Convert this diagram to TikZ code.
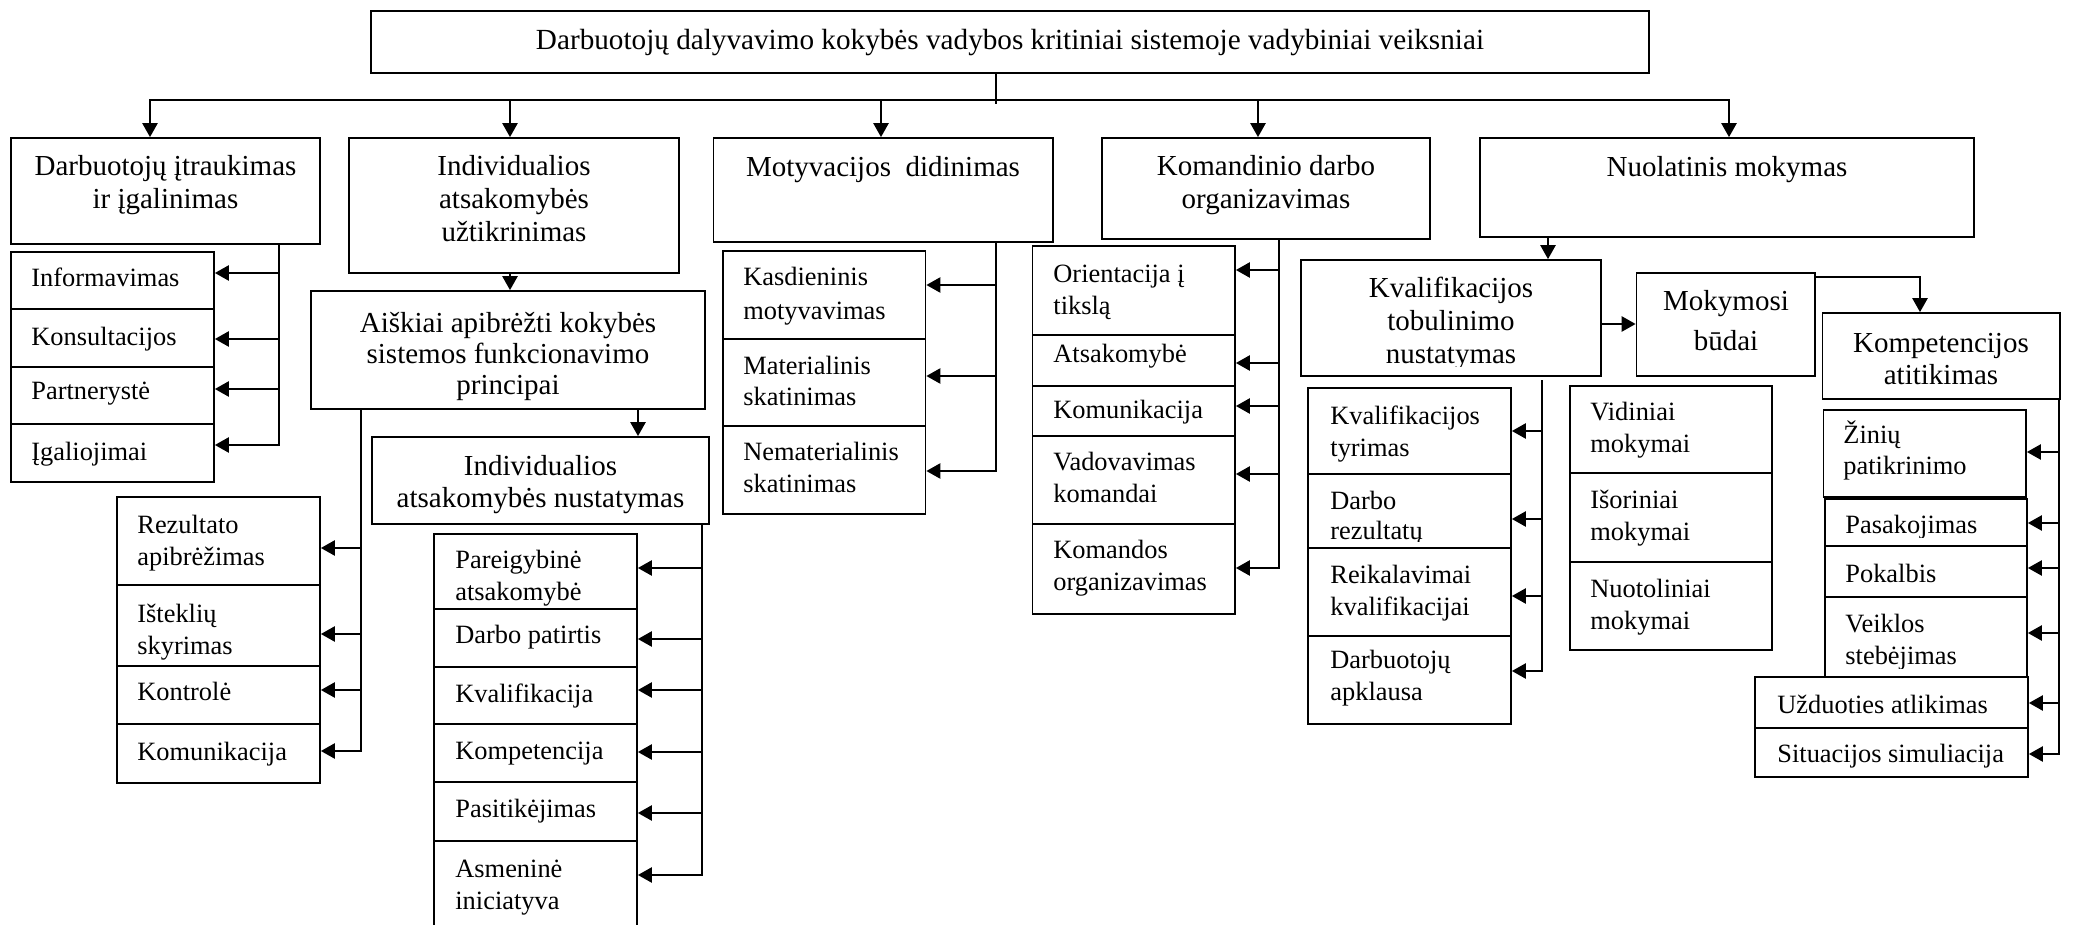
\documentclass[tikz,border=0pt]{standalone}
\usepackage{fontspec}
\setmainfont{Liberation Serif}
\usetikzlibrary{arrows.meta,fit,calc}

% a connector from a trunk point to the east side of a box
\newcommand\tap[3]{\coordinate (#1) at #2; \draw[arr] (#1) -- (#1 -| #3.east);}
% stacked lines whose reference baseline is the first line
\newcommand\cstk[1]{\begin{tabular}[t]{@{}c@{}}#1\end{tabular}}
\newcommand\lstk[1]{\begin{tabular}[t]{@{}l@{}}#1\end{tabular}}

\begin{document}
\begin{tikzpicture}[x=0.5pt,y=-0.5pt,
  box/.style={draw, line width=0.85pt, fill=white, inner sep=0pt},
  conn/.style={line width=1.2pt, line cap=rect},
  arr/.style={line width=1.2pt, -{Triangle[length=7pt,width=7.5pt]}},
  ttl/.style={font=\fontsize{14.6}{16.5}\selectfont, anchor=base, inner sep=0pt},
  htxt/.style={font=\fontsize{14.5}{16.5}\selectfont, anchor=base, inner sep=0pt},
  stxt/.style={font=\fontsize{13.2}{16}\selectfont, anchor=base west, inner sep=0pt}]

\path[use as bounding box, fill=white] (0,0) rectangle (2073,925);

% ---------- title ----------
\node[box, fit={(371,11) (1649,73)}] (title) {};
\node[ttl] (title-t) at (1010,50) {Darbuotojų dalyvavimo kokybės vadybos kritiniai sistemoje vadybiniai veiksniai};

% ---------- main headings ----------
\node[box, fit={(11,138) (320,244)}] (inv) {};
\node[htxt] (inv-t) at (165.5,176) {\cstk{Darbuotojų įtraukimas\\ir įgalinimas}};
\node[box, fit={(349,138) (679,273)}] (ind) {};
\node[htxt] (ind-t) at (514,176) {\cstk{Individualios\\atsakomybės\\užtikrinimas}};
\node[box, fit={(713.5,138) (1053,242)}] (mot) {};
\node[htxt] (mot-t) at (883,177) {Motyvacijos\ \ didinimas};
\node[box, fit={(1102,138) (1430,239)}] (kom) {};
\node[htxt] (kom-t) at (1266,176) {\cstk{Komandinio darbo\\organizavimas}};
\node[box, fit={(1480,138) (1974,237)}] (nuol) {};
\node[htxt] (nuol-t) at (1727,177) {Nuolatinis mokymas};

% ---------- second level ----------
\node[box, fit={(311,291) (705,409)}] (aisk) {};
\node[htxt, font=\fontsize{14.5}{15.5}\selectfont] (aisk-t) at (508,333) {\cstk{Aiškiai apibrėžti kokybės\\sistemos funkcionavimo\\principai}};
\node[box, fit={(372,437) (709,524)}] (nust) {};
\node[htxt, font=\fontsize{14.5}{16}\selectfont] (nust-t) at (540.5,475) {\cstk{Individualios\\atsakomybės nustatymas}};
\node[box, fit={(1301,260) (1601,376)}] (kvt) {};
\begin{scope}
  \clip (kvt.north west) rectangle ($(kvt.south east)+(0,-10)$);
  \node[htxt] (kvt-t) at (1451,298) {\cstk{Kvalifikacijos\\tobulinimo\\nustatymas}};
\end{scope}
\node[box, fit={(1636.5,273) (1815,376)}] (mok) {};
\node[htxt, font=\fontsize{14.5}{20}\selectfont] (mok-t) at (1726,311) {\cstk{Mokymosi\\būdai}};
\node[box, fit={(1822.6,313) (2060,399)}] (komp) {};
\node[htxt] (komp-t) at (1941,352) {\cstk{Kompetencijos\\atitikimas}};

% ---------- involvement ----------
\node[box, fit={(11,252) (214,309)}] (inf) {};
\node[stxt] (inf-t) at (31,287) {Informavimas};
\node[box, fit={(11,309) (214,367)}] (kon) {};
\node[stxt] (kon-t) at (31,345) {Konsultacijos};
\node[box, fit={(11,367) (214,424)}] (prt) {};
\node[stxt] (prt-t) at (31,400) {Partnerystė};
\node[box, fit={(11,424) (214,482)}] (iga) {};
\node[stxt] (iga-t) at (31,460) {Įgaliojimai};

% ---------- principles ----------
\node[box, fit={(117,497) (320,585)}] (rez) {};
\node[stxt] (rez-t) at (137,533) {\lstk{Rezultato\\apibrėžimas}};
\node[box, fit={(117,585) (320,666)}] (ist) {};
\node[stxt] (ist-t) at (137,622) {\lstk{Išteklių\\skyrimas}};
\node[box, fit={(117,666) (320,724)}] (ktr) {};
\node[stxt] (ktr-t) at (137,700) {Kontrolė};
\node[box, fit={(117,724) (320,783)}] (kmn) {};
\node[stxt] (kmn-t) at (137,760) {Komunikacija};

% ---------- individual responsibility ----------
\node[box, fit={(434,534) (637,609)}] (pgb) {};
\node[stxt] (pgb-t) at (455,568) {\lstk{Pareigybinė\\atsakomybė}};
\node[box, fit={(434,609) (637,667)}] (dbp) {};
\node[stxt] (dbp-t) at (455,643) {Darbo patirtis};
\node[box, fit={(434,667) (637,724)}] (kvl) {};
\node[stxt] (kvl-t) at (455,702) {Kvalifikacija};
\node[box, fit={(434,724) (637,782)}] (kmp) {};
\node[stxt] (kmp-t) at (455,759) {Kompetencija};
\node[box, fit={(434,782) (637,841)}] (pst) {};
\node[stxt] (pst-t) at (455,817) {Pasitikėjimas};
\node[box, fit={(434,841) (637,940)}] (asm) {};
\node[stxt] (asm-t) at (455,877) {\lstk{Asmeninė\\iniciatyva}};

% ---------- motivation ----------
\node[box, fit={(723,251) (925.5,339)}] (kas) {};
\node[stxt, font=\fontsize{13.2}{17}\selectfont] (kas-t) at (743,286) {\lstk{Kasdieninis\\motyvavimas}};
\node[box, fit={(723,339) (925.5,426)}] (mat) {};
\node[stxt] (mat-t) at (743,374) {\lstk{Materialinis\\skatinimas}};
\node[box, fit={(723,426) (925.5,514)}] (nem) {};
\node[stxt] (nem-t) at (743,460) {\lstk{Nematerialinis\\skatinimas}};

% ---------- team work ----------
\node[box, fit={(1032.6,246) (1235,335)}] (ori) {};
\node[stxt] (ori-t) at (1053,283) {\lstk{Orientacija į\\tikslą}};
\node[box, fit={(1032.6,335) (1235,386)}] (ats) {};
\node[stxt] (ats-t) at (1053,363) {Atsakomybė};
\node[box, fit={(1032.6,386) (1235,436)}] (kmk) {};
\node[stxt] (kmk-t) at (1053,418) {Komunikacija};
\node[box, fit={(1032.6,436) (1235,524)}] (vad) {};
\node[stxt] (vad-t) at (1053,470) {\lstk{Vadovavimas\\komandai}};
\node[box, fit={(1032.6,524) (1235,614)}] (kmo) {};
\node[stxt] (kmo-t) at (1053,558) {\lstk{Komandos\\organizavimas}};

% ---------- qualification ----------
\node[box, fit={(1308,388) (1511,474)}] (kty) {};
\node[stxt] (kty-t) at (1330,424) {\lstk{Kvalifikacijos\\tyrimas}};
\node[box, fit={(1308,474) (1511,548)}] (dbr) {};
\begin{scope}
  \clip (dbr.north west) rectangle ($(dbr.south east)+(0,-7)$);
  \node[stxt, font=\fontsize{13.2}{15}\selectfont] (dbr-t) at (1330,509) {\lstk{Darbo\\rezultatų}};
\end{scope}
\node[box, fit={(1308,548) (1511,636)}] (rkv) {};
\node[stxt] (rkv-t) at (1330,583) {\lstk{Reikalavimai\\kvalifikacijai}};
\node[box, fit={(1308,636) (1511,724)}] (dap) {};
\node[stxt] (dap-t) at (1330,668) {\lstk{Darbuotojų\\apklausa}};

% ---------- learning methods ----------
\node[box, fit={(1570,386) (1772,473)}] (vid) {};
\node[stxt] (vid-t) at (1590,421) {\lstk{Vidiniai\\mokymai}};
\node[box, fit={(1570,473) (1772,562)}] (iso) {};
\node[stxt] (iso-t) at (1590,508) {\lstk{Išoriniai\\mokymai}};
\node[box, fit={(1570,562) (1772,650)}] (nuo) {};
\node[stxt] (nuo-t) at (1590,597) {\lstk{Nuotoliniai\\mokymai}};

% ---------- competence ----------
\node[box, fit={(1823.6,410) (2026,497)}] (zin) {};
\node[stxt] (zin-t) at (1843,443) {\lstk{Žinių\\patikrinimo}};
\node[box, fit={(1825,499) (2027,546)}] (pas) {};
\begin{scope}
  \clip (pas.north west) rectangle ($(pas.south east)+(0,-9)$);
  \node[stxt] (pas-t) at (1845,533) {Pasakojimas};
\end{scope}
\node[box, fit={(1825,546) (2027,597)}] (pok) {};
\node[stxt] (pok-t) at (1845,582) {Pokalbis};
\node[box, fit={(1825,597) (2027,677)}] (vei) {};
\begin{scope}
  \clip (vei.north west) rectangle ($(vei.south east)+(0,-9)$);
  \node[stxt] (vei-t) at (1845,632) {\lstk{Veiklos\\stebėjimas}};
\end{scope}
\node[box, fit={(1755,677) (2028,728)}] (uzd) {};
\node[stxt] (uzd-t) at (1777,713) {Užduoties atlikimas};
\node[box, fit={(1755,728) (2028,777)}] (sit) {};
\node[stxt] (sit-t) at (1777,762) {Situacijos simuliacija};

% ---------- top distribution bus ----------
\coordinate (stem) at (996,100);
\draw[conn] (stem |- title.south) -- ($(stem)+(0,3)$);
\coordinate (busL) at (150,100);
\coordinate (busR) at (1729,100);
\draw[conn] (busL) -- (busR);
\draw[arr] (busL) -- (busL |- inv.north);
\coordinate (d2) at (510,100);  \draw[arr] (d2) -- (d2 |- ind.north);
\coordinate (d3) at (881,100);  \draw[arr] (d3) -- (d3 |- mot.north);
\coordinate (d4) at (1258,100); \draw[arr] (d4) -- (d4 |- kom.north);
\draw[arr] (busR) -- (busR |- nuol.north);

% ---------- vertical links ----------
\coordinate (d5) at (510,0);  \draw[arr] (d5 |- ind.south) -- (d5 |- aisk.north);
\coordinate (d6) at (638,0);  \draw[arr] (d6 |- aisk.south) -- (d6 |- nust.north);
\coordinate (d7) at (1548,0); \draw[arr] (d7 |- nuol.south) -- (d7 |- kvt.north);
\coordinate (h1) at (0,324);  \draw[arr] (h1 -| kvt.east) -- (h1 -| mok.west);
\coordinate (h2) at (1920,277);
\draw[arr] (h2 -| mok.east) -- (h2) -- (h2 |- komp.north);

% ---------- trunk: involvement ----------
\coordinate (t1) at (279,0);
\tap{a11}{(279,273)}{inf}
\tap{a12}{(279,339)}{kon}
\tap{a13}{(279,389)}{prt}
\tap{a14}{(279,445)}{iga}
\draw[conn] (t1 |- inv.south) -- (a14);

% ---------- trunk: principles ----------
\coordinate (t2) at (361,0);
\tap{a21}{(361,548)}{rez}
\tap{a22}{(361,634)}{ist}
\tap{a23}{(361,690)}{ktr}
\tap{a24}{(361,751)}{kmn}
\draw[conn] (t2 |- aisk.south) -- (a24);

% ---------- trunk: individual responsibility ----------
\coordinate (t3) at (702,0);
\tap{a31}{(702,568)}{pgb}
\tap{a32}{(702,639)}{dbp}
\tap{a33}{(702,690)}{kvl}
\tap{a34}{(702,752)}{kmp}
\tap{a35}{(702,813)}{pst}
\tap{a36}{(702,875)}{asm}
\draw[conn] (t3 |- nust.south) -- (a36);

% ---------- trunk: motivation ----------
\coordinate (t4) at (996,0);
\tap{a41}{(996,285)}{kas}
\tap{a42}{(996,376)}{mat}
\tap{a43}{(996,471)}{nem}
\draw[conn] (t4 |- mot.south) -- (a43);

% ---------- trunk: team work ----------
\coordinate (t5) at (1279,0);
\tap{a51}{(1279,270)}{ori}
\tap{a52}{(1279,363)}{ats}
\tap{a53}{(1279,406)}{kmk}
\tap{a54}{(1279,474)}{vad}
\tap{a55}{(1279,568)}{kmo}
\draw[conn] (t5 |- kom.south) -- (a55);

% ---------- trunk: qualification ----------
\coordinate (t6) at (1542,381);
\tap{a61}{(1542,431)}{kty}
\tap{a62}{(1542,519)}{dbr}
\tap{a63}{(1542,596)}{rkv}
\tap{a64}{(1542,671)}{dap}
\draw[conn] (t6) -- (a64);

% ---------- trunk: competence ----------
\coordinate (t7) at (2059,0);
\tap{a71}{(2059,452)}{zin}
\tap{a72}{(2059,523)}{pas}
\tap{a73}{(2059,568)}{pok}
\tap{a74}{(2059,633)}{vei}
\tap{a75}{(2059,703)}{uzd}
\tap{a76}{(2059,754)}{sit}
\draw[conn] (t7 |- komp.south) -- (a76);

\end{tikzpicture}
\end{document}
